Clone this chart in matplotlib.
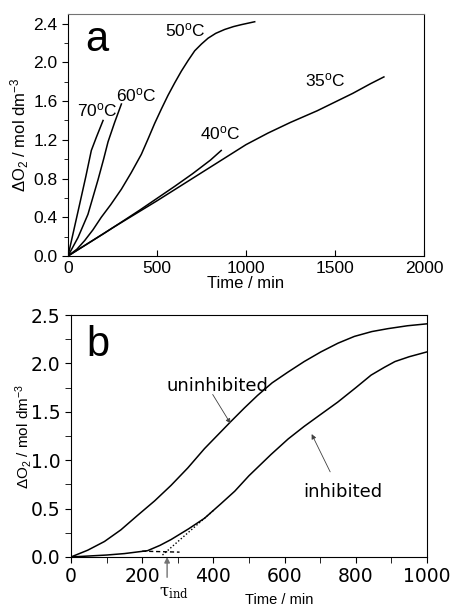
import numpy as np
import matplotlib
matplotlib.use('Agg')
import matplotlib.pyplot as plt
from matplotlib.ticker import MultipleLocator

plt.rcParams['font.family'] = ['Liberation Sans', 'DejaVu Sans']
plt.rcParams['mathtext.default'] = 'regular'

# ---- panel (a): O2 uptake at several temperatures ----
t70 = [0, 33, 66, 100, 131, 160, 197]
o70 = [0, 0.27, 0.54, 0.82, 1.09, 1.23, 1.40]
t60 = [0, 56, 112, 169, 200, 225, 262, 300]
o60 = [0, 0.19, 0.43, 0.79, 1.00, 1.18, 1.38, 1.57]
t50 = [0, 50, 94, 140, 187, 240, 300, 355, 412, 450, 487, 525, 562, 600,
       637, 675, 712, 750, 787, 830, 880, 930, 974, 1049]
o50 = [0, 0.07, 0.16, 0.27, 0.40, 0.53, 0.69, 0.86, 1.05, 1.21, 1.37, 1.52,
       1.66, 1.79, 1.91, 2.02, 2.12, 2.19, 2.25, 2.30, 2.34, 2.37, 2.39, 2.42]
t40 = [0, 200, 400, 600, 700, 800, 861]
o40 = [0, 0.23, 0.47, 0.72, 0.85, 0.99, 1.09]
t35 = [0, 250, 500, 750, 1000, 1124, 1250, 1400, 1500, 1600, 1700, 1775]
o35 = [0, 0.29, 0.57, 0.86, 1.15, 1.27, 1.38, 1.50, 1.59, 1.68, 1.78, 1.85]

curves_a = [(t70, o70), (t60, o60), (t50, o50), (t40, o40), (t35, o35)]
labels_a = ['70', '60', '50', '40', '35']
label_pos_a = [(163, 1.51), (386, 1.66), (657, 2.33), (854, 1.27), (1444, 1.81)]

# ---- panel (b): uninhibited vs inhibited ----
tb = [0, 47, 94, 140, 187, 235, 281, 328, 375, 412, 449, 487, 524, 565,
      609, 655, 702, 750, 796, 845, 890, 945, 1000]
unin = [0, 0.07, 0.16, 0.28, 0.43, 0.58, 0.74, 0.92, 1.12, 1.26, 1.40, 1.54,
        1.67, 1.80, 1.91, 2.02, 2.12, 2.21, 2.28, 2.33, 2.36, 2.39, 2.41]
ti = [0, 50, 100, 150, 215, 250, 281, 330, 375, 421, 460, 500, 562, 610,
      655, 700, 749, 800, 843, 880, 910, 950, 1000]
inh = [0, 0.01, 0.02, 0.035, 0.065, 0.12, 0.18, 0.29, 0.40, 0.55, 0.68, 0.84,
       1.06, 1.22, 1.35, 1.47, 1.60, 1.75, 1.88, 1.96, 2.02, 2.07, 2.12]
base_t = [200, 305]
base_o = [0.06, 0.05]
tang_t = [257, 403]
tang_o = [0.02, 0.49]
tau_ind = 270

fig = plt.figure(figsize=(4.51, 6.06), dpi=100)

ax = fig.add_axes([0.1508, 0.5776, 0.7892, 0.3993])
for (t, o) in curves_a:
    ax.plot(t, o, color='black', lw=1.1)
for lab, (x, y) in zip(labels_a, label_pos_a):
    ax.text(x, y, lab + '$^{o}$C', fontsize=12.5, ha='center', va='center')
ax.text(163, 2.23, 'a', fontsize=30, ha='center', va='center')
ax.set_xlim(0, 2000)
ax.set_ylim(0, 2.5)
ax.set_xticks([0, 500, 1000, 1500, 2000])
ax.set_yticks(np.arange(0, 2.41, 0.4))
ax.set_yticklabels(['%.1f' % v for v in np.arange(0, 2.41, 0.4)])
ax.yaxis.set_minor_locator(MultipleLocator(0.2))
ax.tick_params(axis='x', direction='in', labelsize=12.5, length=4)
ax.tick_params(axis='y', direction='out', labelsize=12.5, length=4)
ax.tick_params(axis='y', which='minor', direction='out', length=3)
ax.spines['top'].set_color('0.45')
ax.set_xlabel('Time / min', fontsize=12, labelpad=0)
ax.set_ylabel('$\\Delta$O$_2$ / mol dm$^{-3}$', fontsize=12, labelpad=2)

bx = fig.add_axes([0.1574, 0.0809, 0.7894, 0.3991])
bx.plot(tb, unin, color='black', lw=1.1)
bx.plot(ti, inh, color='black', lw=1.1)
bx.plot(base_t, base_o, color='black', lw=1.0, ls=(0, (3, 2)))
bx.plot(tang_t, tang_o, color='black', lw=1.0, ls=(0, (1, 1.5)))
bx.text(77, 2.19, 'b', fontsize=30, ha='center', va='center')

bx.text(412, 1.77, 'uninhibited', fontsize=13, family='DejaVu Sans',
        ha='center', va='center')
bx.annotate('', xy=(448, 1.38), xytext=(398, 1.68),
            arrowprops=dict(arrowstyle='-|>', color='0.25', lw=0.6,
                            shrinkA=0, shrinkB=0, mutation_scale=7))
bx.text(763, 0.67, 'inhibited', fontsize=13, family='DejaVu Sans',
        ha='center', va='center')
bx.annotate('', xy=(676, 1.27), xytext=(728, 0.88),
            arrowprops=dict(arrowstyle='-|>', color='0.25', lw=0.6,
                            shrinkA=0, shrinkB=0, mutation_scale=7))

bx.annotate('', xy=(tau_ind, 0), xytext=(tau_ind, -0.21),
            annotation_clip=False,
            arrowprops=dict(arrowstyle='-|>', color='0.45', lw=1.0,
                            shrinkA=0, shrinkB=0, mutation_scale=8))
bx.text(290, -0.37, '$\\tau_{ind}$', fontsize=12, family='DejaVu Serif',
        ha='center', va='center')
bx.set_xlim(0, 1000)
bx.set_ylim(0, 2.5)
bx.set_xticks(np.arange(0, 1001, 200))
bx.xaxis.set_minor_locator(MultipleLocator(100))
bx.set_yticks(np.arange(0, 2.51, 0.5))
bx.set_yticklabels(['%.1f' % v for v in np.arange(0, 2.51, 0.5)])
bx.yaxis.set_minor_locator(MultipleLocator(0.25))
bx.tick_params(which='both', direction='out', length=4)
bx.tick_params(labelsize=13.5, labelfontfamily='DejaVu Sans')
bx.set_xlabel('Time / min', fontsize=10.5)
bx.xaxis.set_label_coords(0.585, -0.15)
bx.set_ylabel('$\\Delta$O$_2$ / mol dm$^{-3}$', fontsize=11, labelpad=-2)

fig.savefig('out.png', dpi=100)
